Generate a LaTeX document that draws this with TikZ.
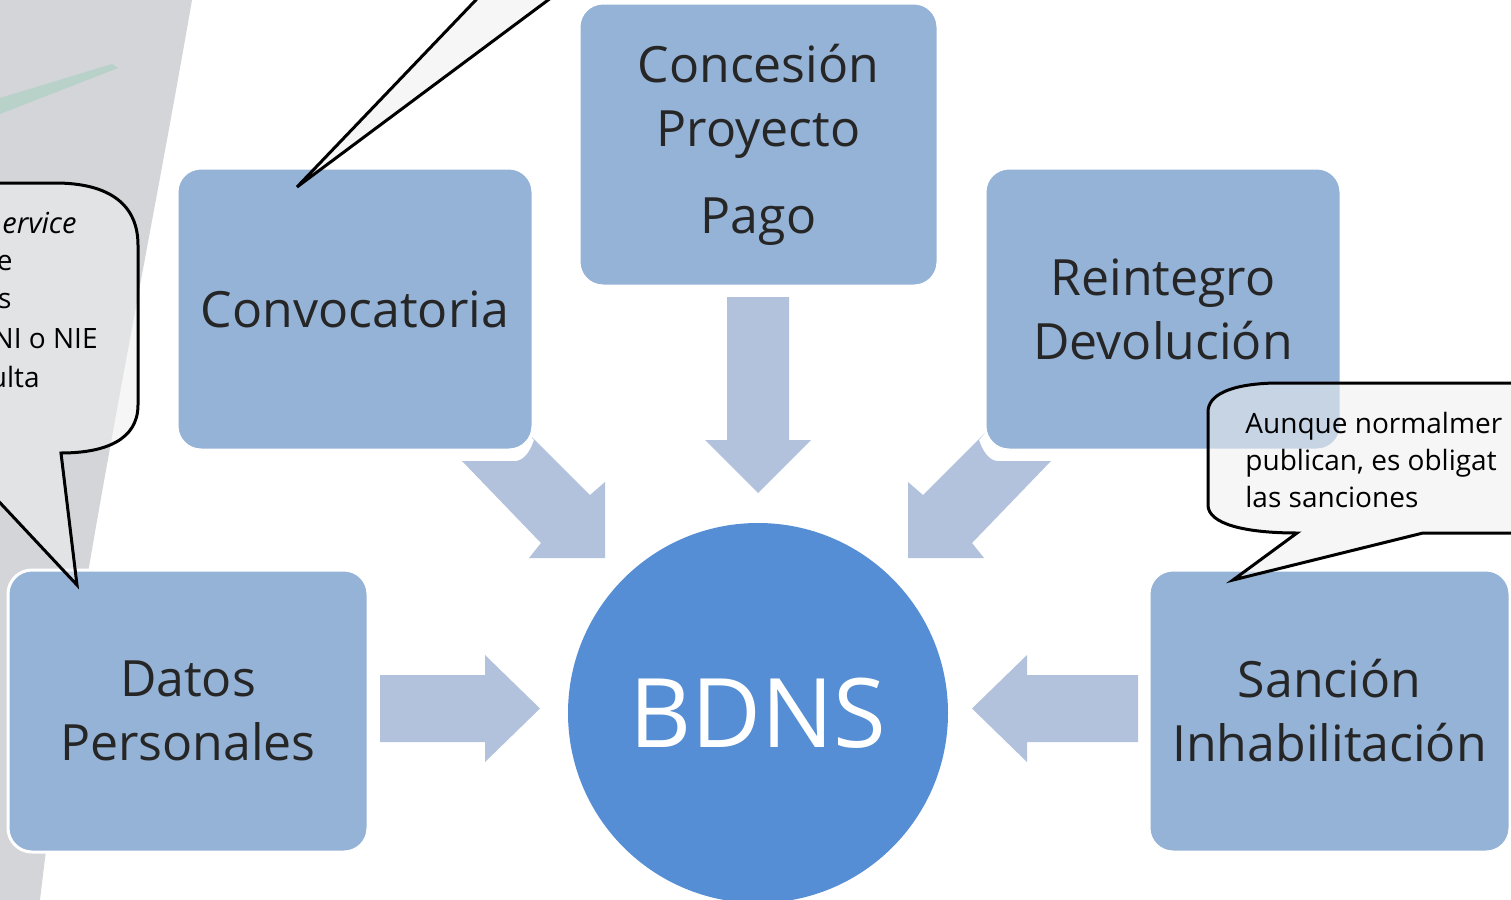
\documentclass[tikz,border=0pt]{standalone}
\usepackage{fontspec}
\setmainfont{Open Sans}
\definecolor{boxblue}{HTML}{95B3D7}
\definecolor{arrowblue}{HTML}{B2C2DC}
\definecolor{circblue}{HTML}{558ED5}
\definecolor{bggrey}{HTML}{D3D5D8}
\definecolor{calloutfill}{HTML}{F0F0F0}
\definecolor{boxtext}{HTML}{262626}
\definecolor{streak}{HTML}{A6CFC0}
\begin{document}
\begin{tikzpicture}[x=0.5pt,y=-0.5pt,
  box/.style={rectangle, rounded corners=12pt, fill=boxblue, draw=white, line width=1.5pt,
    minimum width=178pt, minimum height=141pt, align=center, text=boxtext,
    font=\fontsize{25}{32}\selectfont, inner sep=0pt},
  blockarrow/.style={fill=arrowblue, draw=none},
  callout/.style={fill=calloutfill, fill opacity=0.55, draw=black, draw opacity=1,
    line width=1.5pt},
  ctext/.style={font=\fontsize{14}{19}\selectfont, text=black, inner sep=0pt}]
\useasboundingbox (0,0) rectangle (1511,900);
\clip (0,0) rectangle (1511,900);
\fill[white] (0,0) rectangle (1511,900);
% background
\fill[bggrey] (0,0) -- (192,0) .. controls (140,300) and (75,600) .. (40,900) -- (0,900) -- cycle;
\fill[streak, opacity=0.6] (0,98) -- (112,64) -- (118,68) -- (0,114) -- cycle;
% block arrows
\fill[blockarrow] (727,297) -- (789,297) -- (789,440) -- (811,440) -- (758,493) -- (705,440) -- (727,440) -- cycle;
\fill[blockarrow] (380,675) -- (485,675) -- (485,655) -- (540,708.5) -- (485,762) -- (485,742) -- (380,742) -- cycle;
\fill[blockarrow] (1138,675) -- (1027,675) -- (1027,655) -- (972,708.5) -- (1027,762) -- (1027,742) -- (1138,742) -- cycle;
\fill[blockarrow] (462,461) -- (541,543) -- (529,558) -- (605,558) -- (605,482) -- (590,495) -- (528,433)
  -- (534,440) .. controls (530,452) and (524,460) .. (516,461) -- cycle;
\fill[blockarrow] (1051,461) -- (972,543) -- (984,558) -- (908,558) -- (908,482) -- (923,495) -- (985,433)
  -- (979,440) .. controls (983,452) and (989,460) .. (997,461) -- cycle;
% boxes
\node[box] (conv) at (355,309) {Convocatoria};
\node[box, minimum width=179.5pt, minimum height=141.5pt] (conc) at (758.5,144.5) {Concesión\\Proyecto\\[11.5pt]Pago};
\node[box] (rein) at (1163,309) {Reintegro\\Devolución};
\node[box, minimum width=180pt] (datos) at (188,711) {Datos\\Personales};
\node[box, minimum width=180.5pt] (sanc) at (1329.5,711) {Sanción\\Inhabilitación};
\node[circle, fill=circblue, minimum size=190pt, inner sep=0pt, text=white,
  font=\fontsize{48}{48}\selectfont] (bdns) at (758,713) {BDNS};
% callouts
\draw[callout] (495,-20) -- (297,187) -- (575,-20) -- cycle;
\draw[callout] (-60,183) -- (55,183) .. controls (110,183) and (138,205) .. (138,245) -- (138,405)
  .. controls (138,440) and (105,453) .. (61,453) -- (77,585) -- (-40,460) -- (-60,460) -- cycle;
\draw[callout] (1560,383) -- (1275,383) .. controls (1230,384) and (1208,395) .. (1208,412) -- (1208,505)
  .. controls (1208,524) and (1245,533) .. (1297,533) -- (1233,580) -- (1423,533) -- (1560,533) -- cycle;
% callout texts
\node[ctext, anchor=base east, font=\fontsize{14.5}{19}\selectfont\itshape] (l1) at (77,233) {ervice};
\node[ctext, anchor=base east] (l2) at (13,270) {e};
\node[ctext, anchor=base east] (l3) at (12,308) {s};
\node[ctext, anchor=base east] (l4) at (98,348) {NI o NIE};
\node[ctext, anchor=base east] (l5) at (40,387) {ulta};
\node[ctext, anchor=base west] (r1) at (1245,433) {Aunque normalmer};
\node[ctext, anchor=base west] (r2) at (1245,470) {publican, es obligat};
\node[ctext, anchor=base west] (r3) at (1245,507) {las sanciones};
\end{tikzpicture}
\end{document}
